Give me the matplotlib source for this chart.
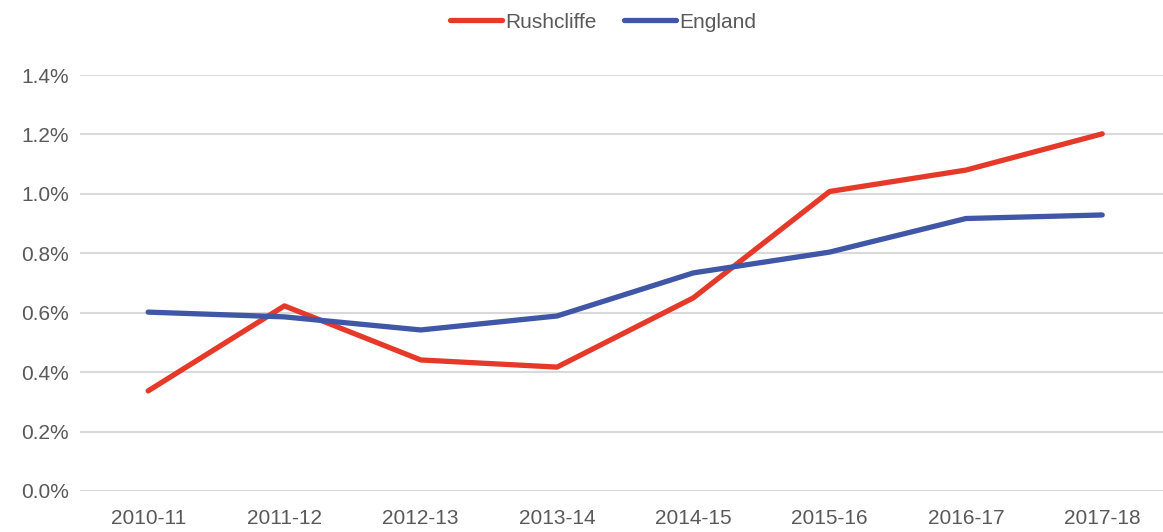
import matplotlib
matplotlib.use('Agg')
import matplotlib.pyplot as plt
from matplotlib.ticker import PercentFormatter

years = ['2010-11', '2011-12', '2012-13', '2013-14', '2014-15', '2015-16', '2016-17', '2017-18']
rushcliffe = [0.337, 0.623, 0.441, 0.417, 0.650, 1.008, 1.080, 1.202]
england = [0.602, 0.586, 0.542, 0.589, 0.734, 0.804, 0.917, 0.929]

plt.rcParams['font.family'] = ['Liberation Sans', 'DejaVu Sans']

fig = plt.figure(figsize=(11.63, 5.32), dpi=100)
ax = fig.add_axes([80/1163, 1-491/532, 1-80/1163, 416/532])

x = range(len(years))
ax.plot(x, rushcliffe, color='#E53A2A', lw=3.8, solid_capstyle='round', label='Rushcliffe')
ax.plot(x, england, color='#3F57A6', lw=3.8, solid_capstyle='round', label='England')

ax.set_xlim(-0.5, 7.446)
ax.set_ylim(0, 1.4)
ax.set_yticks([0, 0.2, 0.4, 0.6, 0.8, 1.0, 1.2, 1.4])
ax.yaxis.set_major_formatter(PercentFormatter(decimals=1))
ax.set_xticks(list(x))
ax.set_xticklabels(years)
ax.grid(axis='y', color='#D9D9D9', lw=1.5)
ax.set_axisbelow(True)
for s in ax.spines.values():
    s.set_visible(False)
ax.tick_params(length=0, labelsize=15, colors='#595959')
ax.tick_params(axis='x', pad=13)
ax.tick_params(axis='y', pad=8)

fig.legend(loc='center', bbox_to_anchor=(603/1163, 1-22/532), ncol=2, frameon=False,
           fontsize=15, labelcolor='#595959', handlelength=2.5, columnspacing=1.3,
           handletextpad=0.15)

fig.savefig('out.png', dpi=100)
